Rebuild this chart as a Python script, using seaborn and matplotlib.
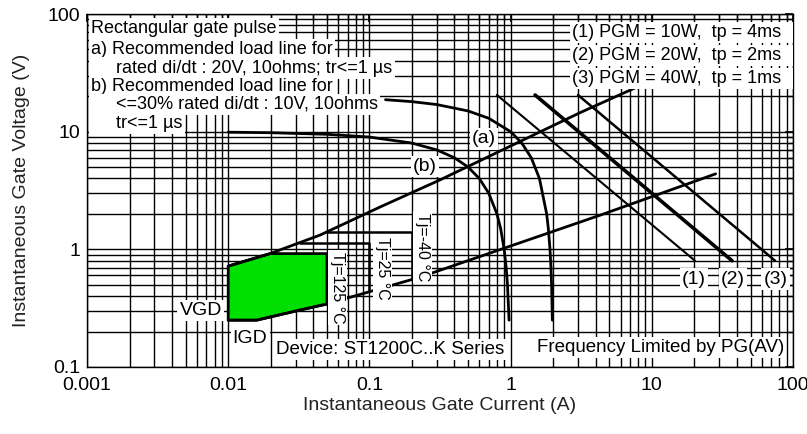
import matplotlib
matplotlib.use("Agg")
import matplotlib.pyplot as plt
from matplotlib.ticker import LogLocator, NullFormatter
import seaborn as sns

# -----------------------------
# DATA (I in A, V in V)
# -----------------------------
x_ticks = [0.001, 0.01, 0.1, 1, 10, 100]
x_tick_labels = ["0.001", "0.01", "0.1", "1", "10", "100"]
y_ticks = [0.1, 1, 10, 100]
y_tick_labels = ["0.1", "1", "10", "100"]

# load line (a): 20V, 10 ohms
load_a_I = [0.13, 0.2, 0.3, 0.5, 0.7, 1.0, 1.2, 1.4, 1.6, 1.8, 1.85, 1.9, 1.93, 1.95, 1.975]
load_a_V = [18.7, 18.0, 17.0, 15.0, 13.0, 10.0, 8.0, 6.0, 4.0, 2.0, 1.5, 1.0, 0.7, 0.5, 0.25]
# load line (b): 10V, 10 ohms
load_b_I = [0.01, 0.02, 0.05, 0.1, 0.2, 0.3, 0.4, 0.5, 0.6, 0.7, 0.8, 0.85, 0.9, 0.93, 0.95, 0.975]
load_b_V = [9.9, 9.8, 9.5, 9.0, 8.0, 7.0, 6.0, 5.0, 4.0, 3.0, 2.0, 1.5, 1.0, 0.7, 0.5, 0.25]

# power limit lines (1) (2) (3)
pgm_labels = ["(1)", "(2)", "(3)"]
pgm_I_start = [0.80, 1.49, 3.0]
pgm_I_end = [20.2, 37.0, 74.6]
pgm_V_start = [20.5, 20.5, 20.5]
pgm_V_end = [0.8, 0.8, 0.8]
pgm_widths = [1.5, 2.6, 1.8]

# upper / lower boundary of the gate trigger area
upper_I = [0.01, 0.0198, 0.0446, 0.119, 0.316, 3.1, 8.95]
upper_V = [0.72, 0.92, 1.32, 2.29, 3.89, 14.5, 25.7]
lower_I = [0.01, 0.0159, 0.0305, 0.05, 0.073, 0.228, 4.3, 28.3]
lower_V = [0.25, 0.25, 0.30, 0.343, 0.391, 0.58, 1.95, 4.38]

# Tj = 125 C area (green), Tj = 25 C and Tj = -40 C corners
green_I = [0.01, 0.0198, 0.05, 0.05, 0.0305, 0.0159, 0.01, 0.01]
green_V = [0.72, 0.92, 0.92, 0.343, 0.30, 0.25, 0.25, 0.72]
tj25_I = [0.032, 0.1, 0.1]
tj25_V = [1.13, 1.13, 0.44]
tj40_I = [0.05, 0.2, 0.2]
tj40_V = [1.4, 1.4, 0.55]

# -----------------------------
# FIGURE SETUP
# -----------------------------
sns.set_theme(style="white")
plt.rcParams['font.family'] = ['Liberation Sans', 'DejaVu Sans']

fig, ax = plt.subplots(figsize=(8.07, 4.34), dpi=100)
fig.subplots_adjust(left=0.1078, right=0.9827, bottom=0.1544, top=0.9677)

ax.set_xscale('log')
ax.set_yscale('log')
ax.set_xlim(0.001, 100)
ax.set_ylim(0.1, 100)
ax.set_xticks(x_ticks, x_tick_labels)
ax.set_yticks(y_ticks, y_tick_labels)
ax.xaxis.set_minor_locator(LogLocator(base=10, subs=range(2, 10)))
ax.yaxis.set_minor_locator(LogLocator(base=10, subs=range(2, 10)))
ax.xaxis.set_minor_formatter(NullFormatter())
ax.yaxis.set_minor_formatter(NullFormatter())

ax.grid(True, which='both', color='black', linewidth=1.0)
ax.set_axisbelow(True)
for s in ax.spines.values():
    s.set_color('black')
    s.set_linewidth(1.0)

ax.tick_params(which='both', direction='in', top=True, right=True, color='black')
ax.tick_params(which='major', length=6, labelsize=14, labelcolor='black')
ax.tick_params(which='minor', length=4)
ax.tick_params(axis='x', pad=7)
ax.tick_params(axis='y', pad=5)

ax.set_xlabel("Instantaneous Gate Current (A)", fontsize=14, color='#222222')
ax.set_ylabel("Instantaneous Gate Voltage (V)", fontsize=14, color='#222222')
ax.xaxis.set_label_coords(0.5, -0.085)
ax.yaxis.set_label_coords(-0.081, 0.5)

# -----------------------------
# CURVES
# -----------------------------
def draw(xs, ys, lw):
    sns.lineplot(x=xs, y=ys, ax=ax, color='black', linewidth=lw,
                 sort=False, estimator=None, zorder=3)

ax.fill(green_I, green_V, color='#00e000', zorder=2, linewidth=0)
draw(green_I, green_V, 2.0)
draw(tj25_I, tj25_V, 1.8)
draw(tj40_I, tj40_V, 1.8)
draw(upper_I, upper_V, 2.0)
draw(lower_I, lower_V, 2.0)
draw(load_a_I, load_a_V, 2.0)
draw(load_b_I, load_b_V, 2.0)
for i in range(len(pgm_labels)):
    draw([pgm_I_start[i], pgm_I_end[i]], [pgm_V_start[i], pgm_V_end[i]], pgm_widths[i])

# -----------------------------
# ANNOTATIONS
# -----------------------------
box = dict(facecolor='white', edgecolor='none', pad=1.5)

def label(x, y, s, size=13, ha='left', va='baseline', rot=0):
    ax.text(x, y, s, transform=ax.transAxes, fontsize=size, ha=ha, va=va,
            rotation=rot, color='black', bbox=box, zorder=5)

left_block = [
    "Rectangular gate pulse",
    "a) Recommended load line for",
    "     rated di/dt : 20V, 10ohms; tr<=1 µs",
    "b) Recommended load line for",
    "     <=30% rated di/dt : 10V, 10ohms",
    "     tr<=1 µs",
]
left_y = [0.946, 0.887, 0.834, 0.782, 0.731, 0.677]
for s, y in zip(left_block, left_y):
    label(0.006, y, s)

right_block = [
    "(1) PGM = 10W,  tp = 4ms  ",
    "(2) PGM = 20W,  tp = 2ms  ",
    "(3) PGM = 40W,  tp = 1ms  ",
]
right_y = [0.935, 0.870, 0.805]
for s, y in zip(right_block, right_y):
    label(0.997, y, s, ha='right')

label(0.562, 0.646, "(a)", size=14, ha='center', va='center')
label(0.479, 0.567, "(b)", size=14, ha='center', va='center')
for s, x in zip(pgm_labels, [0.860, 0.915, 0.975]):
    label(x, 0.249, s, size=14, ha='center', va='center')

label(0.161, 0.161, "VGD", size=14, ha='center', va='center')
label(0.231, 0.082, "IGD", size=14, ha='center', va='center')
label(0.429, 0.049, "Device: ST1200C..K Series", size=13.5, ha='center', va='center')
label(0.812, 0.054, "Frequency Limited by PG(AV)", size=13.5, ha='center', va='center')

label(0.355, 0.225, "Tj=125 °C", size=11.5, ha='center', va='center', rot=-90)
label(0.419, 0.280, "Tj=25 °C", size=11.5, ha='center', va='center', rot=-90)
label(0.475, 0.340, "Tj=-40 °C", size=11.5, ha='center', va='center', rot=-90)

fig.savefig("out.png", dpi=100)
